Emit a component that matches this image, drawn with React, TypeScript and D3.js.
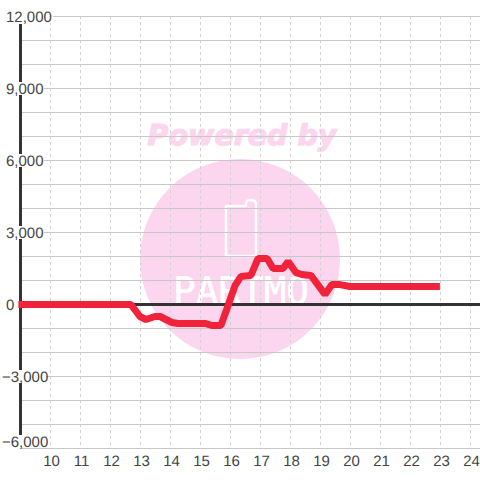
import React from "react";
import * as d3 from "d3";

const hours = [8.93, 12.68, 12.98, 13.18, 13.48, 13.65, 14.05, 14.25, 15.15, 15.38, 15.68, 15.92, 16.15, 16.35, 16.68, 16.92, 17.22, 17.42, 17.75, 17.92, 18.18, 18.38, 18.68, 19.15, 19.38, 19.65, 19.98, 22.98];
const values = [0, 0, -500, -625, -500, -500, -750, -790, -790, -875, -875, -40, 790, 1170, 1210, 1920, 1920, 1500, 1500, 1790, 1330, 1250, 1210, 420, 830, 830, 750, 750];
const yTicks = [12000, 9000, 6000, 3000, 0, -3000, -6000];
const yGrid = d3.range(-6000, 12001, 1000);
const xTicks = d3.range(10, 25);

const x = d3.scaleLinear().domain([10, 24]).range([50.5, 470.5]);
const y = d3.scaleLinear().domain([-6000, 12000]).range([448.5, 16.5]);
const fmt = d3.format(",");

export default function App() {
  const line = d3.line<number>().x((_, i) => x(hours[i])).y((d) => y(d));
  return (
    <svg width={480} height={480} style={{ position: "absolute", left: 0, top: 0, background: "#fff" }} fontFamily="'Liberation Sans', Arial, sans-serif" textRendering="geometricPrecision">
      <circle cx={240} cy={259} r={100} fill="#fbd6ee" />
      <text x={242} y={145} textAnchor="middle" fontFamily="'DejaVu Sans'" fontWeight="bold" fontStyle="italic" fontSize={28.5} fill="#fbd6ee" stroke="#fbd6ee" strokeWidth={1.2}>Powered by</text>
      <path d="M226 206 H246 V203 Q247 200 250 200 Q256 200 256 204 V256 H226 Z" fill="none" stroke="#fff" strokeWidth={2.5} strokeLinejoin="round" />
      <text x={241} y={304} textAnchor="middle" fontFamily="'DejaVu Sans Mono'" fontSize={38} textLength={136} lengthAdjust="spacingAndGlyphs" fill="#fff" stroke="#fff" strokeWidth={0.4}>PARTMO</text>
      {xTicks.map((t) => (
        <line key={t} x1={x(t)} x2={x(t)} y1={16} y2={448} stroke="#d2d2d2" strokeWidth={1} strokeDasharray="3 3" />
      ))}
      {yGrid.map((t) => (
        <line key={t} x1={20} x2={480} y1={y(t)} y2={y(t)} stroke="#c8c8c8" strokeWidth={1} />
      ))}
      <line x1={20} x2={480} y1={y(0)} y2={y(0)} stroke="#333" strokeWidth={3} />
      <line x1={20.5} x2={20.5} y1={24} y2={436} stroke="#333" strokeWidth={3} />
      {yTicks.map((t) => {
        const label = fmt(t);
        const cy = t === -6000 ? 441.5 : y(t);
        const right = t === 12000 ? 53 : t === 0 ? 18 : t < 0 ? 46 : 44;
        const left = t < 0 ? 2 : 6;
        return (
          <g key={t}>
            <rect x={left - 1} y={cy - 6.5} width={right - left + 1} height={13} fill="#fff" />
            <text x={left} y={cy + 5.5} fontSize={15} fill="#444">{label}</text>
          </g>
        );
      })}
      {xTicks.map((t) => (
        <text key={t} x={x(t) + 1} y={466} textAnchor="middle" fontSize={15} fill="#444">{t}</text>
      ))}
      <path d={line(values) ?? ""} fill="none" stroke="#f0233a" strokeWidth={7} strokeLinejoin="bevel" />
    </svg>
  );
}
